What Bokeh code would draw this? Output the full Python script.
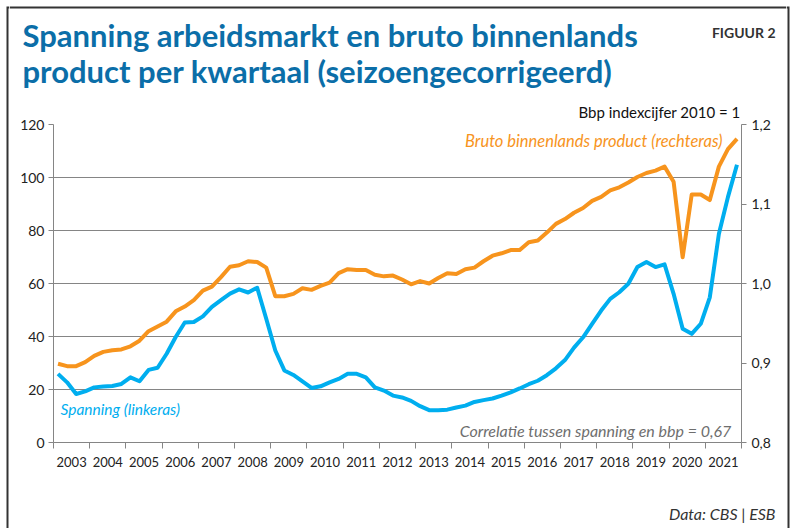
from bokeh.plotting import figure
from bokeh.layouts import row, column
from bokeh.models import (Range1d, LinearAxis, FixedTicker, CustomJSTickFormatter, Label, Title, Plot)
from bokeh.embed import file_html
from bokeh.resources import INLINE

# ---------------- data ----------------
years = list(range(2003, 2022))
quarters = [f"{y}K{q}" for y in years for q in (1, 2, 3, 4)]

spanning = [
    25.9, 22.7, 18.3, 19.3, 20.8, 21.1, 21.3, 22.1, 24.6, 23.1,
    27.4, 28.2, 33.5, 39.8, 45.3, 45.5, 47.6, 51.2, 53.7, 56.2,
    57.8, 56.6, 58.4, 46.7, 34.7, 27.2, 25.5, 23.1, 20.6, 21.2,
    22.7, 24.0, 25.9, 25.9, 24.6, 20.8, 19.6, 17.7, 17.0, 15.7,
    13.7, 12.2, 12.2, 12.4, 13.2, 13.9, 15.3, 16.0, 16.6, 17.7,
    18.9, 20.4, 22.0, 23.3, 25.4, 28.0, 31.1, 35.8, 39.7, 44.8,
    49.8, 54.2, 56.7, 59.9, 66.2, 68.1, 66.2, 67.2, 56.1, 42.9,
    41.0, 44.8, 54.8, 78.7, 92.6, 104.8,
]

bbp = [
    0.899, 0.896, 0.896, 0.901, 0.909, 0.914, 0.916, 0.917, 0.921, 0.928,
    0.940, 0.946, 0.952, 0.965, 0.971, 0.979, 0.991, 0.996, 1.008, 1.021,
    1.023, 1.028, 1.027, 1.020, 0.984, 0.984, 0.987, 0.994, 0.992, 0.997,
    1.001, 1.013, 1.018, 1.017, 1.017, 1.011, 1.009, 1.010, 1.005, 0.999,
    1.003, 1.000, 1.007, 1.013, 1.012, 1.018, 1.020, 1.028, 1.035, 1.038,
    1.042, 1.042, 1.052, 1.054, 1.064, 1.075, 1.081, 1.089, 1.095, 1.104,
    1.109, 1.117, 1.121, 1.127, 1.134, 1.139, 1.142, 1.147, 1.128, 1.033,
    1.112, 1.112, 1.105, 1.147, 1.169, 1.182,
]

year_bounds = list(range(2003, 2023))
left_ticks = [0, 20, 40, 60, 80, 100, 120]
right_ticks = [0.8, 0.9, 1.0, 1.1, 1.2]

title_lines = ["Spanning arbeidsmarkt en bruto binnenlands",
               "product per kwartaal (seizoengecorrigeerd)"]
figure_tag = "FIGUUR 2"
right_axis_title = "Bbp indexcijfer 2010 = 1"
bbp_label = "Bruto binnenlands product (rechteras)"
spanning_label = "Spanning (linkeras)"
corr_label = "Correlatie tussen spanning en bbp = 0,67"
source_label = "Data: CBS | ESB"

# quarter midpoints on a year axis
xq = [int(s[:4]) + (int(s[-1]) - 0.5) / 4 for s in quarters]

# ---------------- layout constants (page pixels) ----------------
W, H = 791, 528
LS, RS = 9, 5                 # side strips carrying the outer frame
HEAD_H, FOOT_H = 96, 50
MAIN_H = H - HEAD_H - FOOT_H
FL, FR, FT, FB = 53, 741, 124, 442
X0, X1 = 2003, 2022
Y0, Y1 = 0, 120

BLUE = "#00AEEF"
ORANGE = "#F7941D"
TITLE = "#0B6EA8"
GRID = "#858585"
FRAME = "#333333"
FONT = "Lato"

HAS_FA = "frame_align" in Plot.properties()


def no_align(f):
    if HAS_FA:
        f.frame_align = False
    return f


def blank(w, h, x0, x1, ytop, ybot):
    f = figure(width=w, height=h, output_backend="svg", toolbar_location=None,
               x_range=Range1d(x0, x1), y_range=Range1d(ybot, ytop),
               x_axis_location=None, y_axis_location=None, min_border=0)
    f.outline_line_color = None
    f.grid.visible = False
    f.background_fill_color = "white"
    f.border_fill_color = "white"
    return no_align(f)


def add_text(f, x, y, text, size, color, align="left", base="middle", style="normal", font=FONT):
    f.add_layout(Label(x=x, y=y, text=text, text_font=font, text_font_size=size,
                       text_color=color, text_align=align, text_baseline=base,
                       text_font_style=style))


# ---------------- strips with outer frame ----------------
left_strip = blank(LS, H, 0, LS, 0, H)
left_strip.line([7, 7, LS], [H, 7, 7], line_color=FRAME, line_width=2, line_join="miter")
right_strip = blank(RS, H, W - RS, W, 0, H)
right_strip.line([W - RS, 788, 788], [7, 7, H], line_color=FRAME, line_width=2, line_join="miter")

MW = W - LS - RS

# ---------------- header ----------------
head = blank(MW, HEAD_H, LS, W - RS, 0, HEAD_H)
head.line([LS, W - RS], [7, 7], line_color=FRAME, line_width=2)
add_text(head, 22, 34, title_lines[0], "31px", TITLE, style="bold")
add_text(head, 22, 70, title_lines[1], "31px", TITLE, style="bold")
add_text(head, 775, 32, figure_tag, "14px", "#333333", align="right", style="bold")

# ---------------- main chart ----------------
p = figure(width=MW, height=MAIN_H, output_backend="svg", toolbar_location=None,
           x_range=Range1d(X0, X1), y_range=Range1d(Y0, Y1),
           min_border_left=FL - LS, min_border_right=(W - RS) - FR,
           min_border_top=FT - HEAD_H, min_border_bottom=(HEAD_H + MAIN_H) - FB)
no_align(p)
p.outline_line_color = None
p.background_fill_color = "white"
p.border_fill_color = "white"
p.extra_y_ranges = {"bbp": Range1d(0.8, 1.2)}

p.add_layout(Title(text=right_axis_title, align="right", vertical_align="bottom",
                   offset=1, standoff=8, text_font=FONT, text_font_size="15px",
                   text_font_style="normal", text_color="#111111"), "above")

p.xgrid.visible = False
p.ygrid.ticker = FixedTicker(ticks=left_ticks)
p.ygrid.grid_line_color = GRID
p.ygrid.grid_line_width = 1

ya = p.yaxis[0]
ya.ticker = FixedTicker(ticks=left_ticks)
ya.axis_line_color = GRID
ya.major_tick_line_color = GRID
ya.major_tick_out = 5
ya.major_tick_in = 0
ya.minor_tick_line_color = None
ya.major_label_standoff = 4
ya.major_label_text_font = FONT
ya.major_label_text_font_size = "14px"
ya.major_label_text_color = "#222222"

ra = LinearAxis(y_range_name="bbp", ticker=FixedTicker(ticks=right_ticks),
                formatter=CustomJSTickFormatter(code="return tick.toFixed(1).replace('.', ',')"))
ra.axis_line_color = GRID
ra.major_tick_line_color = GRID
ra.major_tick_out = 5
ra.major_tick_in = 0
ra.minor_tick_line_color = None
ra.major_label_standoff = 5
ra.major_label_text_font = FONT
ra.major_label_text_font_size = "14px"
ra.major_label_text_color = "#222222"
p.add_layout(ra, "right")

xa = p.xaxis[0]
xa.ticker = FixedTicker(ticks=[y + 0.5 for y in years], minor_ticks=year_bounds)
xa.formatter = CustomJSTickFormatter(code="return String(Math.floor(tick))")
xa.axis_line_color = GRID
xa.major_tick_line_color = None
xa.major_tick_out = 0
xa.major_tick_in = 0
xa.minor_tick_line_color = GRID
xa.minor_tick_out = 6
xa.minor_tick_in = 0
xa.major_label_standoff = 8
xa.major_label_text_font = FONT
xa.major_label_text_font_size = "13px"
xa.major_label_text_color = "#222222"

p.line(xq, spanning, color=BLUE, line_width=4, line_join="round")
p.line(xq, bbp, y_range_name="bbp", color=ORANGE, line_width=4, line_join="round")


def X(sx):
    return X0 + (sx - FL) * (X1 - X0) / (FR - FL)


def Y(sy):
    return Y0 + (FB - sy) * (Y1 - Y0) / (FB - FT)


add_text(p, X(722), Y(140), bbp_label, "16.5px", ORANGE, align="right", style="italic")
add_text(p, X(60), Y(408), spanning_label, "15.5px", BLUE, style="italic")
add_text(p, X(731), Y(430), corr_label, "16px", "#6E6E6E", align="right", style="italic")

# ---------------- footer ----------------
foot = blank(MW, FOOT_H, LS, W - RS, HEAD_H + MAIN_H, H)
add_text(foot, 775, 513, source_label, "16px", "#333333", align="right", style="italic")

layout = row(left_strip, column(head, p, foot, spacing=0), right_strip, spacing=0)
open("out.html", "w").write(file_html(layout, INLINE))
